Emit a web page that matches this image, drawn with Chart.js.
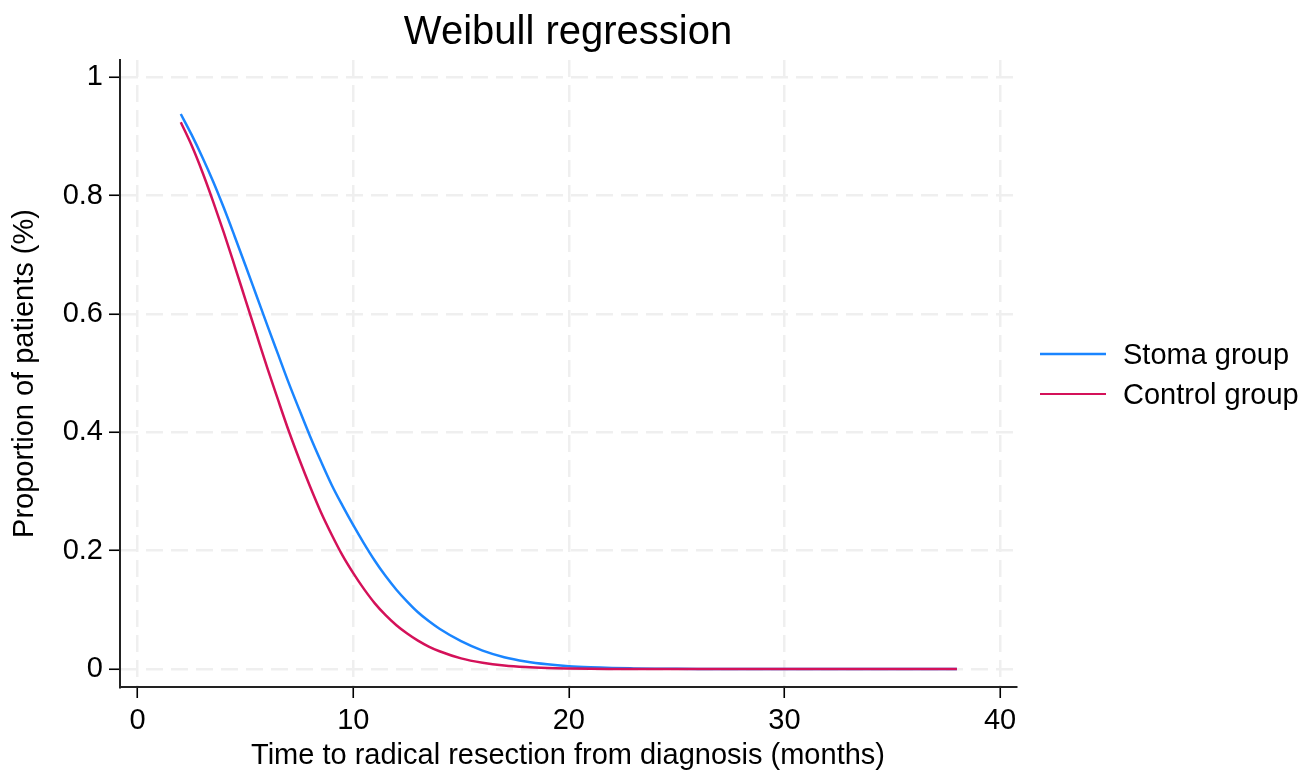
<!DOCTYPE html>
<html>
<head>
<meta charset="utf-8">
<script src="https://cdn.jsdelivr.net/npm/chart.js@4/dist/chart.umd.min.js"></script>
<style>
  html, body { margin: 0; padding: 0; background: #fff; }
  canvas { display: block; }
</style>
</head>
<body>
<canvas id="c" width="1312" height="773"></canvas>
<script>
// ---- data ----
const chartTitle = "Weibull regression";
const xAxisTitle = "Time to radical resection from diagnosis (months)";
const yAxisTitle = "Proportion of patients (%)";
const seriesNames = ["Stoma group", "Control group"];

const months = [2, 2.5, 3, 3.5, 4, 4.5, 5, 5.5, 6, 6.5, 7, 7.5, 8, 8.5, 9, 9.5,
  10, 10.5, 11, 11.5, 12, 12.5, 13, 13.5, 14, 15, 16, 17, 18, 19, 20,
  21, 22, 23, 24, 25, 26, 27, 28, 29, 30, 31, 32, 33, 34, 35, 36, 37, 38];

const stoma = [0.938, 0.903, 0.865, 0.824, 0.779, 0.731, 0.682, 0.632, 0.582, 0.533,
  0.484, 0.438, 0.393, 0.351, 0.311, 0.276, 0.243, 0.212, 0.183, 0.157,
  0.134, 0.114, 0.096, 0.081, 0.068, 0.047, 0.031, 0.020, 0.0128, 0.008, 0.0048,
  0.0029, 0.0017, 0.001, 0.0005, 0.0003, 0.00016, 0.00008, 0, 0, 0, 0, 0, 0, 0, 0, 0, 0, 0];

const control = [0.924, 0.885, 0.840, 0.790, 0.737, 0.681, 0.624, 0.567, 0.510, 0.456,
  0.403, 0.354, 0.308, 0.265, 0.227, 0.192, 0.162, 0.135, 0.111, 0.091,
  0.074, 0.060, 0.048, 0.038, 0.030, 0.018, 0.0106, 0.0059, 0.0032, 0.0017, 0.0009,
  0.0004, 0.0002, 0.0001, 0, 0, 0, 0, 0, 0, 0, 0, 0, 0, 0, 0, 0, 0, 0];

const xTicks = [0, 10, 20, 30, 40];
const xTickLabels = ["0", "10", "20", "30", "40"];
const yTicks = [0, 0.2, 0.4, 0.6, 0.8, 1];
const yTickLabels = ["0", "0.2", "0.4", "0.6", "0.8", "1"];

// ---- styling ----
const FONT = "'Liberation Sans', Arial, Helvetica, sans-serif";
const colors = ["rgb(26,133,255)", "rgb(212,17,89)"];
const gridColor = "#efefef";
const TXT = 29;

function toPoints(xs, ys) { return xs.map((x, i) => ({ x: x, y: ys[i] })); }

const overlayPlugin = {
  id: "overlay",
  afterDraw(chart) {
    const ctx = chart.ctx;
    const area = chart.chartArea;
    ctx.save();
    ctx.fillStyle = "#000";
    ctx.font = "40px " + FONT;
    ctx.textAlign = "center";
    ctx.textBaseline = "middle";
    ctx.fillText(chartTitle, (area.left + area.right) / 2, 33);
    const items = [
      { y: 354, w: 2.6 },
      { y: 394, w: 1.8 }
    ];
    ctx.font = TXT + "px " + FONT;
    ctx.textAlign = "left";
    chart.data.datasets.forEach((ds, i) => {
      const it = items[i];
      ctx.strokeStyle = ds.borderColor;
      ctx.lineWidth = it.w;
      ctx.beginPath();
      ctx.moveTo(1040, it.y);
      ctx.lineTo(1106, it.y);
      ctx.stroke();
      ctx.fillStyle = "#000";
      ctx.fillText(ds.label, 1123, it.y + 2);
    });
    ctx.restore();
  }
};

const gridOpts = {
  color: gridColor,
  lineWidth: 2.5,
  drawTicks: true,
  tickLength: 11,
  tickColor: "#000",
  tickWidth: 1.6,
  tickBorderDash: []
};

new Chart(document.getElementById("c"), {
  type: "scatter",
  data: {
    datasets: [
      {
        label: seriesNames[0],
        data: toPoints(months, stoma),
        borderColor: colors[0],
        backgroundColor: colors[0],
        borderWidth: 2.5,
        showLine: true,
        pointRadius: 0,
        cubicInterpolationMode: "monotone",
        order: 1
      },
      {
        label: seriesNames[1],
        data: toPoints(months, control),
        borderColor: colors[1],
        backgroundColor: colors[1],
        borderWidth: 2.5,
        showLine: true,
        pointRadius: 0,
        cubicInterpolationMode: "monotone",
        order: 0
      }
    ]
  },
  options: {
    responsive: false,
    animation: false,
    devicePixelRatio: 1,
    layout: { padding: { top: 60, right: 296, left: 0, bottom: 0 } },
    plugins: {
      legend: { display: false },
      title: { display: false },
      tooltip: { enabled: false }
    },
    scales: {
      x: {
        type: "linear",
        min: -0.82,
        max: 40.74,
        afterFit(scale) { scale.height = 86; },
        afterBuildTicks(scale) { scale.ticks = xTicks.map(v => ({ value: v })); },
        ticks: {
          color: "#000",
          font: { family: FONT, size: TXT },
          padding: 6,
          maxRotation: 0,
          callback: (v, i) => xTickLabels[i]
        },
        grid: gridOpts,
        border: { display: true, color: "#222", width: 2, dash: [17, 8] },
        title: {
          display: true,
          text: xAxisTitle,
          color: "#000",
          font: { family: FONT, size: TXT },
          padding: { top: 0, bottom: 0 }
        }
      },
      y: {
        type: "linear",
        min: -0.0304,
        max: 1.0292,
        afterFit(scale) { scale.width = 120; },
        afterBuildTicks(scale) { scale.ticks = yTicks.map(v => ({ value: v })); },
        ticks: {
          color: "#000",
          font: { family: FONT, size: TXT },
          padding: 6,
          callback: (v, i) => yTickLabels[i]
        },
        grid: gridOpts,
        border: { display: true, color: "#222", width: 2, dash: [17, 8] },
        title: {
          display: true,
          text: yAxisTitle,
          color: "#000",
          font: { family: FONT, size: TXT },
          padding: { top: 8, bottom: 0 }
        }
      }
    }
  },
  plugins: [overlayPlugin]
});
</script>
</body>
</html>
